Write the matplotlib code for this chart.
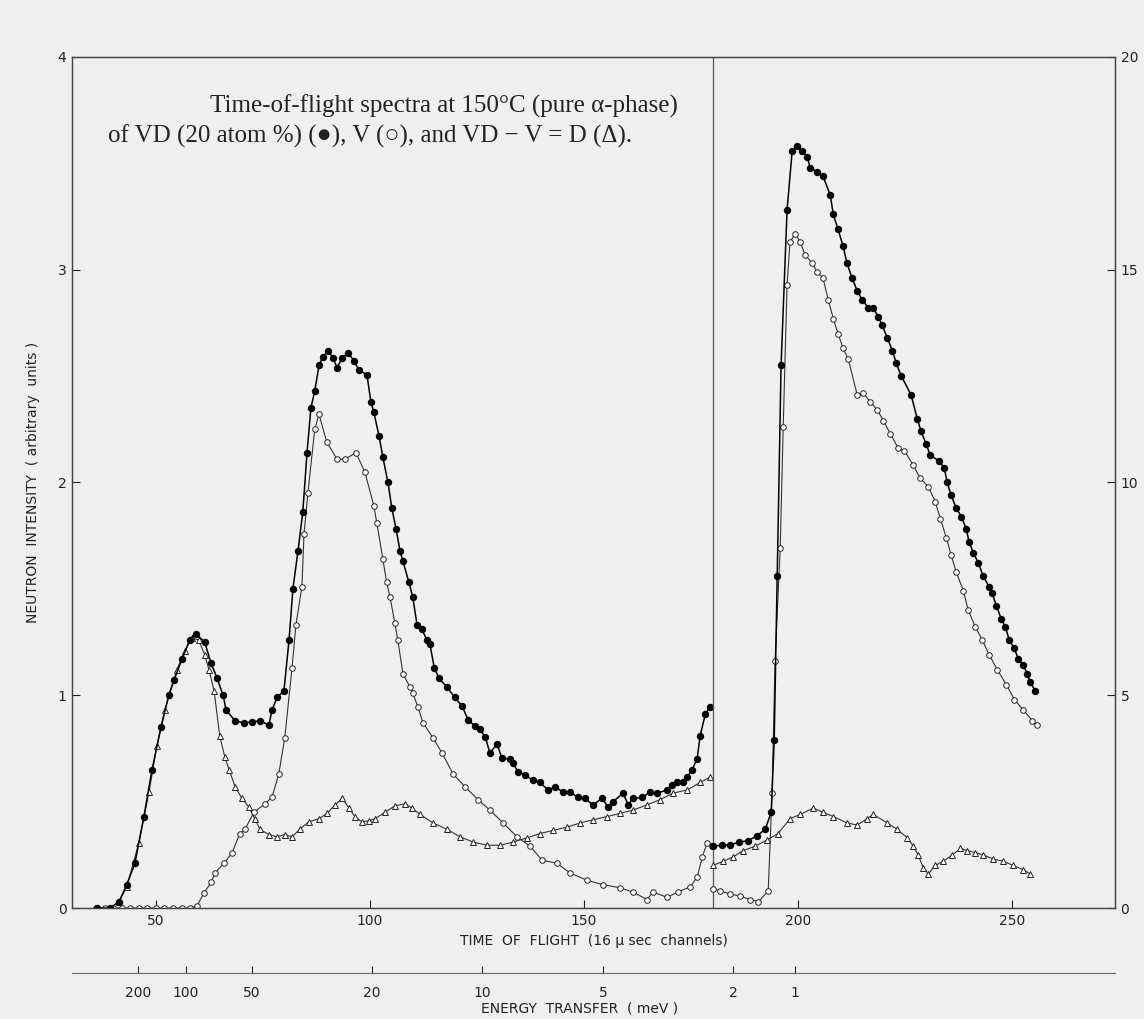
import matplotlib.pyplot as plt

# values
# left part (channels < 180), left axis units
vd_ch = [36.2, 39.3, 41.4, 43.2, 45.1, 47.2, 49.1, 51.2, 53.0, 54.2, 56.1, 57.9, 59.3, 61.4, 62.9,
         64.3, 65.7, 66.4, 68.5, 70.6, 72.4, 74.3, 76.4, 77.1, 78.3, 79.9, 81.1, 82.0, 83.2, 84.3,
         85.3, 86.2, 87.1, 88.1, 89.0, 90.2, 91.4, 92.3, 93.5, 94.9, 96.3, 97.4, 99.3, 100.2, 100.9,
         102.1, 103.0, 104.2, 105.1, 106.1, 107.0, 107.7, 109.1, 110.0, 111.0, 112.1, 113.3, 114.0,
         115.0, 116.1, 117.9, 119.8, 121.5, 122.9, 124.5, 125.7, 126.9, 128.0, 129.7, 130.8, 132.7,
         133.4, 134.6, 136.2, 138.1, 139.7, 141.6, 143.2, 145.1, 146.7, 148.6, 150.2, 152.1, 154.2,
         155.6, 156.8, 159.1, 160.3, 161.4, 163.6, 165.4, 167.1, 169.4, 170.6, 171.7, 173.1, 174.1,
         175.2, 176.4, 177.1, 178.3, 179.4]
vd_val = [0.0, 0.0, 0.03, 0.11, 0.21, 0.43, 0.65, 0.85, 1.0, 1.07, 1.17, 1.26, 1.29, 1.25, 1.15,
          1.08, 1.0, 0.93, 0.88, 0.87, 0.875, 0.88, 0.86, 0.93, 0.99, 1.02, 1.26, 1.50, 1.68, 1.86,
          2.14, 2.35, 2.43, 2.55, 2.59, 2.62, 2.585, 2.54, 2.585, 2.61, 2.57, 2.53, 2.505, 2.38, 2.33,
          2.22, 2.12, 2.0, 1.88, 1.78, 1.68, 1.63, 1.53, 1.46, 1.33, 1.31, 1.26, 1.24,
          1.13, 1.08, 1.04, 0.99, 0.95, 0.885, 0.855, 0.84, 0.805, 0.73, 0.77, 0.705, 0.70,
          0.68, 0.64, 0.625, 0.60, 0.59, 0.555, 0.57, 0.545, 0.545, 0.52, 0.515, 0.485, 0.515,
          0.475, 0.50, 0.54, 0.485, 0.515, 0.52, 0.545, 0.54, 0.555, 0.58, 0.59, 0.59, 0.615,
          0.65, 0.70, 0.81, 0.91, 0.945]

v_ch = [36, 38, 40, 42, 44, 46, 48, 50, 52, 54, 56, 58, 59.6, 61.2, 62.9, 63.8, 65.9, 67.8, 69.6,
        70.8, 72.9, 75.5, 77.1, 78.7, 80.1, 81.8, 82.7, 84.1, 84.6, 85.5, 87.1, 88.1, 89.9, 92.3,
        94.2, 96.7, 98.8, 100.9, 101.6, 103.0, 103.9, 104.7, 105.8, 106.5, 107.7, 109.3, 110.0,
        111.2, 112.4, 114.7, 116.8, 119.4, 122.2, 125.2, 128.0, 131.1, 134.3, 137.4, 140.2, 143.7,
        146.7, 150.7, 154.4, 158.4, 161.4, 164.7, 166.1, 169.4, 171.9, 174.8, 176.4, 177.6, 178.7,
        179.9]
v_val = [0, 0, 0, 0, 0, 0, 0, 0, 0, 0, 0, 0, 0.01, 0.07, 0.12, 0.165, 0.21, 0.26, 0.35,
         0.37, 0.45, 0.49, 0.52, 0.63, 0.80, 1.13, 1.33, 1.51, 1.76, 1.95, 2.25, 2.32, 2.19, 2.11,
         2.11, 2.14, 2.05, 1.89, 1.81, 1.64, 1.53, 1.46, 1.34, 1.26, 1.10, 1.04, 1.01,
         0.945, 0.87, 0.80, 0.73, 0.63, 0.57, 0.51, 0.46, 0.40, 0.335, 0.29, 0.225, 0.21,
         0.165, 0.13, 0.11, 0.095, 0.075, 0.04, 0.075, 0.05, 0.075, 0.10, 0.145, 0.24, 0.305,
         0.29]

d_ch = [36.2, 39.3, 41.4, 43.2, 46.0, 48.4, 50.2, 52.1, 54.9, 56.8, 58.4, 60.0, 61.4, 62.4, 63.6,
        64.9, 66.1, 67.1, 68.5, 70.1, 71.7, 73.1, 74.3, 76.4, 78.3, 80.1, 81.8, 83.6, 85.7, 88.1,
        90.0, 91.8, 93.5, 95.1, 96.5, 98.1, 99.8, 101.2, 103.5, 105.8, 108.2, 109.8, 111.7, 114.7,
        118.0, 121.0, 124.1, 127.3, 130.4, 133.4, 136.7, 139.7, 142.8, 146.0, 149.1, 152.1, 155.4,
        158.4, 161.4, 164.7, 167.8, 170.8, 174.1, 177.1, 179.4]
d_val = [0.0, 0.0, 0.03, 0.10, 0.305, 0.545, 0.76, 0.93, 1.12, 1.21, 1.27, 1.26, 1.19, 1.12, 1.02,
         0.81, 0.71, 0.65, 0.57, 0.515, 0.475, 0.42, 0.37, 0.345, 0.335, 0.345, 0.335, 0.37, 0.405, 0.42,
         0.445, 0.485, 0.515, 0.47, 0.43, 0.405, 0.41, 0.42, 0.45, 0.48, 0.49, 0.47, 0.44, 0.40,
         0.37, 0.335, 0.31, 0.295, 0.295, 0.31, 0.33, 0.35, 0.365, 0.38, 0.40, 0.415, 0.43,
         0.445, 0.46, 0.485, 0.51, 0.54, 0.555, 0.59, 0.615]

# right part (channels > 180), right axis units
vd_r_ch = [180.1, 182.2, 184.1, 186.2, 188.3, 190.4, 192.3, 193.7, 194.4, 195.1, 196.0, 197.4, 198.6,
           199.8, 200.9, 202.1, 202.8, 204.4, 205.8, 207.5, 208.2, 209.3, 210.5, 211.4, 212.6, 213.8,
           214.9, 216.4, 217.5, 218.7, 219.6, 220.8, 222.0, 222.9, 224.1, 226.4, 227.8, 228.7, 229.9,
           230.8, 232.9, 234.1, 234.8, 235.7, 236.9, 238.1, 239.3, 239.9, 240.9, 242.1, 243.2, 244.6,
           245.3, 246.3, 247.4, 248.4, 249.3, 250.5, 251.4, 252.6, 253.5, 254.2, 255.4]
vd_r_val = [1.45, 1.48, 1.48, 1.55, 1.58, 1.70, 1.85, 2.25, 3.95, 7.8, 12.75, 16.4, 17.8,
            17.9, 17.8, 17.65, 17.4, 17.3, 17.2, 16.75, 16.3, 15.95, 15.55, 15.15, 14.8, 14.5,
            14.3, 14.1, 14.1, 13.9, 13.7, 13.4, 13.1, 12.8, 12.5, 12.05, 11.5, 11.2, 10.9,
            10.65, 10.5, 10.35, 10.0, 9.7, 9.4, 9.2, 8.9, 8.6, 8.35, 8.1, 7.8, 7.55,
            7.4, 7.1, 6.8, 6.6, 6.3, 6.1, 5.85, 5.7, 5.5, 5.3, 5.1]

v_r_ch = [180.1, 181.8, 184.1, 186.4, 188.8, 190.7, 193.0, 193.9, 194.6, 195.8, 196.5, 197.4, 198.1,
          199.3, 200.5, 201.6, 203.3, 204.4, 205.8, 207.0, 208.2, 209.3, 210.5, 211.7, 213.8, 215.2,
          216.8, 218.5, 219.9, 221.5, 223.4, 224.8, 226.9, 228.5, 230.4, 232.0, 233.2, 234.6, 235.7,
          236.9, 238.6, 239.7, 241.4, 243.0, 244.6, 246.5, 248.6, 250.5, 252.6, 254.7, 255.8]
v_r_val = [0.45, 0.4, 0.33, 0.28, 0.2, 0.15, 0.4, 2.7, 5.8, 8.45, 11.3, 14.65, 15.65,
           15.85, 15.65, 15.35, 15.15, 14.95, 14.8, 14.3, 13.85, 13.5, 13.15, 12.9, 12.05, 12.1,
           11.9, 11.7, 11.45, 11.15, 10.8, 10.75, 10.4, 10.1, 9.9, 9.55, 9.15, 8.7, 8.3,
           7.9, 7.45, 7.0, 6.6, 6.3, 5.95, 5.6, 5.25, 4.9, 4.65, 4.4, 4.3]

d_r_ch = [180.1, 182.5, 184.8, 187.1, 189.9, 192.7, 195.3, 198.1, 200.5, 203.5, 205.8, 208.2, 211.4,
          213.8, 216.1, 217.5, 220.8, 223.1, 225.5, 226.9, 228.0, 229.2, 230.4, 232.0, 233.9, 236.0,
          237.9, 239.5, 241.4, 243.2, 245.6, 247.9, 250.2, 252.6, 254.2]
d_r_val = [1.0, 1.1, 1.2, 1.35, 1.45, 1.6, 1.75, 2.1, 2.2, 2.35, 2.25, 2.15, 2.0,
           1.95, 2.1, 2.2, 2.0, 1.85, 1.65, 1.45, 1.25, 0.95, 0.8, 1.0, 1.1, 1.25,
           1.4, 1.35, 1.3, 1.25, 1.15, 1.1, 1.0, 0.9, 0.8]

# energy transfer scale under the time-of-flight axis
energy_labels = ['200', '100', '50', '20', '10', '5', '2', '1']
energy_ch = [45.8, 57.0, 72.4, 100.5, 126.2, 154.4, 184.8, 199.3]

bg = '#efefef'
fig = plt.figure(figsize=(11.44, 10.19), dpi=100, facecolor=bg)
ax = fig.add_axes([0.0629, 0.1089, 0.9118, 0.8352], facecolor=bg)
ax2 = ax.twinx()

vd_style = dict(color='black', lw=1.1, marker='o', ms=4.3, mfc='black', mec='black')
v_style = dict(color='#333333', lw=0.8, marker='o', ms=4.0, mfc='white', mec='#222222', mew=0.7)
d_style = dict(color='#333333', lw=0.8, marker='^', ms=4.0, mfc='white', mec='#222222', mew=0.7)

ax.plot(d_ch, d_val, **d_style)
ax.plot(v_ch, v_val, **v_style)
ax.plot(vd_ch, vd_val, **vd_style)
ax2.plot(d_r_ch, d_r_val, **d_style)
ax2.plot(v_r_ch, v_r_val, **v_style)
ax2.plot(vd_r_ch, vd_r_val, **vd_style)

ax.axvline(180, color='#555555', lw=0.9)

ax.set_xlim(30.4, 274)
ax.set_ylim(0, 4)
ax2.set_ylim(0, 20)
ax.set_xticks([50, 100, 150, 200, 250])
ax.set_yticks([0, 1, 2, 3, 4])
ax2.set_yticks([0, 5, 10, 15, 20])
ax.tick_params(direction='in', length=6, width=0.8, labelsize=10, colors='#222222', pad=4)
ax2.tick_params(direction='in', length=6, width=0.8, labelsize=10, colors='#222222', pad=4)
for a in (ax, ax2):
    for s in a.spines.values():
        s.set_color('#444444')
        s.set_linewidth(0.9)

ax.set_xlabel('TIME  OF  FLIGHT  (16 μ sec  channels)', fontsize=10, color='#222222')
ax.xaxis.set_label_coords(0.5, -0.031)
ax.set_ylabel('NEUTRON  INTENSITY  ( arbitrary  units )', fontsize=10, color='#222222')
ax.yaxis.set_label_coords(-0.031, 0.5)

sec = ax.secondary_xaxis(-0.0764)
sec.set_xticks(energy_ch, labels=energy_labels)
sec.tick_params(direction='in', length=5, width=0.8, labelsize=10, colors='#222222', pad=9)
sec.spines['bottom'].set_color('#666666')
sec.spines['bottom'].set_linewidth(0.8)
fig.text(580 / 1144, 1 - 1008 / 1019, 'ENERGY  TRANSFER  ( meV )', ha='center', va='center',
         fontsize=10, color='#222222')

serif = ['Liberation Serif', 'DejaVu Serif']
fig.text(210 / 1144, 1 - 106 / 1019, 'Time-of-flight spectra at 150°C (pure α-phase)',
         ha='left', va='center', fontsize=18, family=serif, color='#222222')
fig.text(108 / 1144, 1 - 136 / 1019, 'of VD (20 atom %) (●), V (○), and VD − V = D (Δ).',
         ha='left', va='center', fontsize=18, family=serif, color='#222222')

fig.savefig('out.png', dpi=100, facecolor=bg)
